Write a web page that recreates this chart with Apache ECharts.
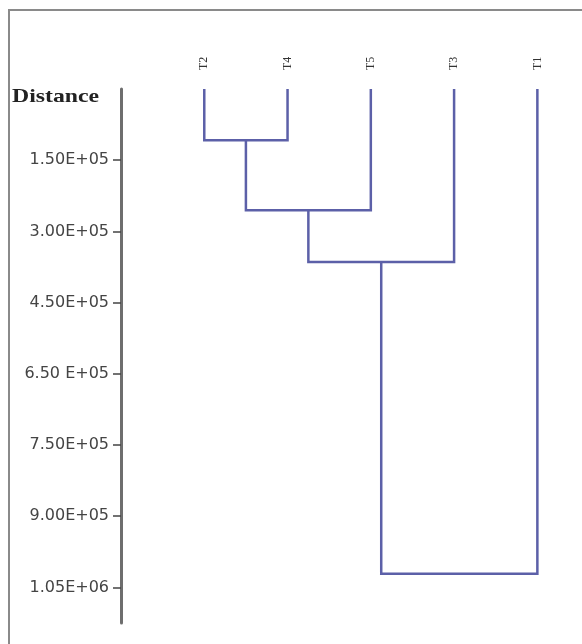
<!DOCTYPE html>
<html>
<head>
<meta charset="utf-8">
<script src="https://cdn.jsdelivr.net/npm/echarts@6/dist/echarts.min.js"></script>
<style>html,body{margin:0;padding:0;background:#fff}#c{width:582px;height:644px}</style>
</head>
<body>
<div id="c"></div>
<script>
// Leaves in display order
var leaves = ['T2', 'T4', 'T5', 'T3', 'T1'];
// Merges: [left node, right node, distance]; nodes are leaf names or cluster ids c1..c4
var mergeLeft  = ['T2', 'c1', 'c2', 'c3'];
var mergeRight = ['T4', 'T5', 'T3', 'T1'];
var mergeDist  = [107900, 255400, 364400, 1021200];
// Y axis tick values and printed labels
var tickValues = [150000, 300000, 450000, 600000, 750000, 900000, 1050000];
var tickLabels = ['1.50E+05', '3.00E+05', '4.50E+05', '6.50 E+05', '7.50E+05', '9.00E+05', '1.05E+06'];

var pos = {}, hgt = {};
leaves.forEach(function (n, i) { pos[n] = i + 1; hgt[n] = 0; });
var segs = [];
for (var k = 0; k < mergeLeft.length; k++) {
  var a = mergeLeft[k], b = mergeRight[k], d = mergeDist[k];
  segs.push([pos[a], pos[b], d, hgt[a], hgt[b]]);
  var id = 'c' + (k + 1);
  pos[id] = (pos[a] + pos[b]) / 2;
  hgt[id] = d;
}

var chart = echarts.init(document.getElementById('c'), null, {renderer: 'canvas'});
chart.setOption({
  animation: false,
  backgroundColor: '#fff',
  graphic: [
    {type: 'rect', shape: {x: 9, y: 10, width: 600, height: 700},
     style: {fill: null, stroke: '#8a8a8a', lineWidth: 2}},
    {type: 'text', x: 12, y: 88, scaleX: 1.25,
     style: {text: 'Distance', font: 'bold 19px "Liberation Serif", "DejaVu Serif", serif', fill: '#222'}}
  ],
  grid: {left: 121, top: 89, right: 3, bottom: 21},
  xAxis: {
    type: 'value', position: 'top', min: 0, max: 5.5,
    splitLine: {show: false}, axisLine: {show: false}, axisTick: {show: false},
    axisLabel: {
      customValues: leaves.map(function (n, i) { return i + 1; }),
      formatter: function (v) { return leaves[Math.round(v) - 1] || ''; },
      rotate: 90, margin: 19,
      fontFamily: '"Liberation Serif", serif', fontSize: 12, color: '#333'
    }
  },
  yAxis: {
    type: 'value', inverse: true, min: 0, max: 1125000,
    splitLine: {show: false},
    axisLine: {show: true, lineStyle: {color: '#6e6e6e', width: 3}},
    axisTick: {show: true, customValues: tickValues, length: 8, lineStyle: {color: '#444', width: 1.5}},
    axisLabel: {
      customValues: tickValues,
      formatter: function (v) { var i = tickValues.indexOf(v); return i >= 0 ? tickLabels[i] : ''; },
      margin: 12, fontFamily: '"DejaVu Sans", sans-serif', fontSize: 16, color: '#444'
    }
  },
  series: [{
    type: 'custom',
    data: segs,
    clip: false,
    renderItem: function (params, api) {
      var x1 = api.value(0), x2 = api.value(1), h = api.value(2), h1 = api.value(3), h2 = api.value(4);
      var p = [api.coord([x1, h1]), api.coord([x1, h]), api.coord([x2, h]), api.coord([x2, h2])];
      return {type: 'polyline', shape: {points: p},
              style: {stroke: '#5c60a8', lineWidth: 2.5, fill: null, lineJoin: 'miter'}};
    }
  }]
});
</script>
</body>
</html>
